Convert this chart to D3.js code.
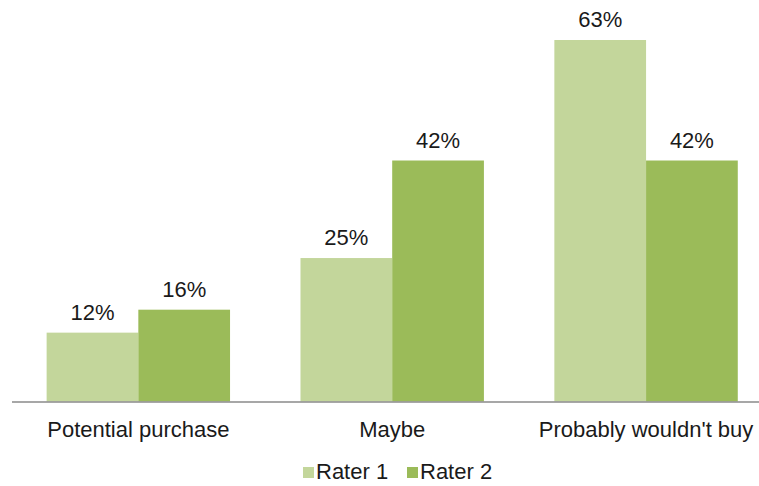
<!DOCTYPE html>
<html>
<head>
<meta charset="utf-8">
<script src="https://cdn.jsdelivr.net/npm/d3@7"></script>
<style>
  html, body { margin: 0; padding: 0; background: #fff; }
  svg { display: block; font-family: "Liberation Sans", Arial, Helvetica, sans-serif; }
</style>
</head>
<body>
<svg id="chart" width="759" height="486"></svg>
<script>
// Purchase intent by rater (share of responses, %)
const categories = ["Potential purchase", "Maybe", "Probably wouldn't buy"];
const seriesNames = ["Rater 1", "Rater 2"];
const rater1 = [12, 25, 63];
const rater2 = [16, 42, 42];
const colors = ["#c3d69b", "#9bbb59"];

const width = 759, height = 486;
const baseline = 401.5;
const fontSize = 22;
const svg = d3.select("#chart");

const x = d3.scaleBand()
  .domain(categories)
  .range([11.4, 773])
  .paddingInner(0.2775)
  .paddingOuter(0.13875);

const xSub = d3.scaleBand()
  .domain(seriesNames)
  .range([0, x.bandwidth()]);

const y = d3.scaleLinear()
  .domain([0, 70])
  .range([baseline, baseline - 70 * 5.738]);

const rows = categories.map((c, i) => ({
  category: c,
  values: [
    { series: seriesNames[0], value: rater1[i] },
    { series: seriesNames[1], value: rater2[i] }
  ]
}));

const groups = svg.append("g")
  .selectAll("g")
  .data(rows)
  .join("g")
  .attr("transform", d => `translate(${x(d.category)},0)`);

groups.selectAll("rect")
  .data(d => d.values)
  .join("rect")
  .attr("x", d => xSub(d.series))
  .attr("y", d => y(d.value))
  .attr("width", xSub.bandwidth())
  .attr("height", d => y(0) - y(d.value))
  .attr("fill", (d, i) => colors[i]);

groups.selectAll("text.val")
  .data(d => d.values)
  .join("text")
  .attr("class", "val")
  .attr("x", d => xSub(d.series) + xSub.bandwidth() / 2)
  .attr("y", d => y(d.value) - 13)
  .attr("text-anchor", "middle")
  .attr("font-size", fontSize)
  .attr("fill", "#1a1a1a")
  .text(d => d.value + "%");

// Category axis
const xAxis = svg.append("g")
  .attr("transform", `translate(0,${baseline})`)
  .call(d3.axisBottom(x).tickSize(0).tickPadding(20));
xAxis.select(".domain").remove();
xAxis.selectAll("text")
  .attr("font-size", fontSize)
  .attr("font-family", "Liberation Sans, Arial, sans-serif")
  .attr("fill", "#1a1a1a")
  .attr("dy", "0.71em");

svg.append("line")
  .attr("x1", 12).attr("x2", width)
  .attr("y1", baseline + 0.5).attr("y2", baseline + 0.5)
  .attr("stroke", "#8a8a8a")
  .attr("stroke-width", 1.5);

// Legend
const legend = svg.append("g").attr("transform", "translate(303,467)");
const legendX = [0, 104];
const items = legend.selectAll("g")
  .data(seriesNames)
  .join("g")
  .attr("transform", (d, i) => `translate(${legendX[i]},0)`);
items.append("rect")
  .attr("width", 11).attr("height", 11)
  .attr("fill", (d, i) => colors[i]);
items.append("text")
  .attr("x", 13).attr("y", 11.5)
  .attr("font-size", fontSize)
  .attr("fill", "#1a1a1a")
  .text(d => d);
</script>
</body>
</html>
